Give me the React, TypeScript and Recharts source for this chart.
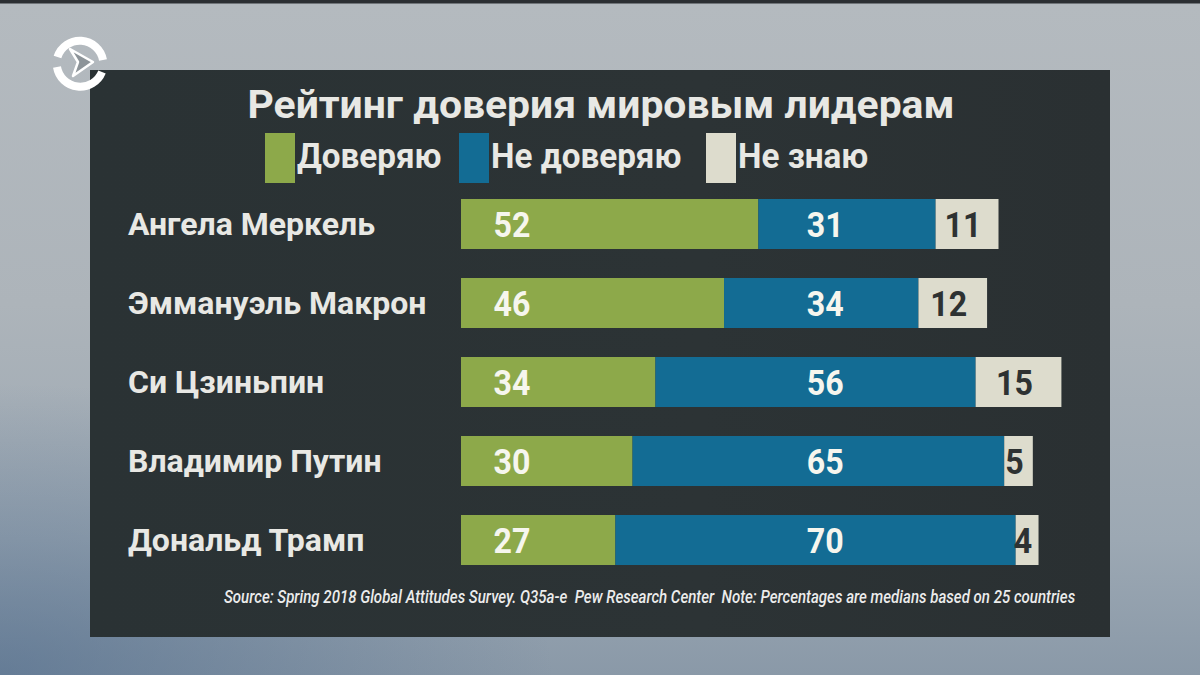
import React from 'react';
import { BarChart, Bar, XAxis, YAxis, LabelList, Legend } from 'recharts';

const categories = ['Ангела Меркель', 'Эммануэль Макрон', 'Си Цзиньпин', 'Владимир Путин', 'Дональд Трамп'];
const trustValues = [52, 46, 34, 30, 27];
const distrustValues = [31, 34, 56, 65, 70];
const unknownValues = [11, 12, 15, 5, 4];
const seriesNames = ['Доверяю', 'Не доверяю', 'Не знаю'];
const titleText = 'Рейтинг доверия мировым лидерам';
const footerText = 'Source: Spring 2018 Global Attitudes Survey. Q35a-e\u00a0 Pew Research Center\u00a0 Note: Percentages are medians based on 25 countries';

const data = categories.map((name, i) => ({
  name,
  trust: trustValues[i],
  distrust: distrustValues[i],
  unknown: unknownValues[i],
}));

const GREEN = '#8da94a';
const BLUE = '#136c94';
const BEIGE = '#dddccd';
const LIGHT = '#e8e8e4';
const FONT = 'Roboto, "Noto Sans", sans-serif';

const CatTick = (props: any) => {
  const { y, payload } = props;
  return (
    <text x={128} y={y + 11} fill={LIGHT} fontFamily={FONT} fontWeight={700} fontSize={32} textAnchor="start">
      {payload.value}
    </text>
  );
};

const ValueText = ({ cx, cy, value, fill }: any) => (
  <text
    transform={`translate(${cx} ${cy}) scale(0.92 1)`}
    x={0}
    y={0}
    fill={fill}
    fontFamily={FONT}
    fontWeight={700}
    fontSize={35}
    textAnchor="middle"
  >
    {value}
  </text>
);

const TrustLabel = (props: any) => {
  const { x, y, height, value } = props;
  return <ValueText cx={x + 51} cy={y + height / 2 + 13} value={value} fill="#f6f6ee" />;
};

const DistrustLabel = (props: any) => {
  const { x, y, width, height, value, index } = props;
  const row = data[index];
  const unit = width / row.distrust;
  const base = x - unit * row.trust;
  return <ValueText cx={base + unit * 63.7} cy={y + height / 2 + 13} value={value} fill="#f6f6ee" />;
};

const UnknownLabel = (props: any) => {
  const { x, y, width, height, value } = props;
  return <ValueText cx={x + width / 2 - 4} cy={y + height / 2 + 13} value={value} fill="#2e3232" />;
};

const legendX = [265, 459, 706];

const LegendContent = (props: any) => {
  const payload = props.payload || [];
  return (
    <svg width={1200} height={200} style={{ display: 'block' }}>
      {payload.map((p: any, i: number) => (
        <g key={i}>
          <rect x={legendX[i]} y={133} width={30} height={50} fill={p.color} />
          <text
            transform={`translate(${legendX[i] + 32} 168) scale(0.95 1)`}
            x={0}
            y={0}
            fill={LIGHT}
            fontFamily={FONT}
            fontWeight={700}
            fontSize={35}
          >
            {p.value}
          </text>
        </g>
      ))}
    </svg>
  );
};

export default function App() {
  return (
    <div style={{ position: 'absolute', left: 0, top: 0, width: 1200, height: 675, overflow: 'hidden' }}>
      <div
        style={{
          position: 'absolute', left: 0, top: 0, width: 1200, height: 675,
          background: 'linear-gradient(to bottom, #2c2f33 0px, #2c2f33 3px, #b4babf 4px, #adb4ba 45%, #9ca8b3 80%, #8a99a8 100%)',
        }}
      />
      <div
        style={{
          position: 'absolute', left: 0, top: 380, width: 560, height: 295,
          background: 'radial-gradient(ellipse at 0% 100%, rgba(70,100,135,0.55) 0%, rgba(70,100,135,0) 70%)',
        }}
      />
      <div
        style={{
          position: 'absolute', left: 90, top: 70, width: 1020, height: 567,
          background: 'linear-gradient(to right, #2a3234 0%, #2c3335 60%, #2a3032 100%)',
        }}
      />
      <div style={{ position: 'absolute', left: 0, top: 0 }}>
        <BarChart
          width={1200}
          height={675}
          layout="vertical"
          data={data}
          margin={{ top: 184, right: 110, bottom: 96, left: 121 }}
        >
          <XAxis type="number" domain={[0, 110]} hide />
          <YAxis type="category" dataKey="name" width={340} axisLine={false} tickLine={false} tick={<CatTick />} />
          <Legend
            layout="vertical"
            verticalAlign="middle"
            align="center"
            wrapperStyle={{ position: 'absolute', left: 0, top: 0, width: 1200, height: 200 }}
            content={<LegendContent />}
          />
          <Bar dataKey="trust" name={seriesNames[0]} stackId="a" fill={GREEN} barSize={50} isAnimationActive={false}>
            <LabelList dataKey="trust" content={<TrustLabel />} />
          </Bar>
          <Bar dataKey="distrust" name={seriesNames[1]} stackId="a" fill={BLUE} barSize={50} isAnimationActive={false}>
            <LabelList dataKey="distrust" content={<DistrustLabel />} />
          </Bar>
          <Bar dataKey="unknown" name={seriesNames[2]} stackId="a" fill={BEIGE} barSize={50} isAnimationActive={false}>
            <LabelList dataKey="unknown" content={<UnknownLabel />} />
          </Bar>
        </BarChart>
      </div>
      <svg width={1200} height={675} style={{ position: 'absolute', left: 0, top: 0, pointerEvents: 'none' }}>
        <g>
          <path d="M 57.5 57 A 23.5 23.5 0 0 1 103 60" fill="none" stroke="#ffffff" strokeWidth={8} />
          <path d="M 102 72 A 23.5 23.5 0 0 1 57 67" fill="none" stroke="#ffffff" strokeWidth={8} />
          <polygon points="70,49 93,62 73,76 78,62" fill="#8d9499" stroke="#ffffff" strokeWidth={2.5} strokeLinejoin="round" />
        </g>
        <text x={601} y={118} textAnchor="middle" fill={LIGHT} fontFamily={FONT} fontWeight={700} fontSize={38} textLength={707} lengthAdjust="spacingAndGlyphs">
          {titleText}
        </text>
        <text
          transform="translate(224 603) scale(0.82 1)"
          x={0}
          y={0}
          fill="#ececec"
          fontFamily={FONT}
          fontStyle="italic"
          fontWeight={500}
          fontSize={18}
          textLength={1038}
          lengthAdjust="spacingAndGlyphs"
        >
          {footerText}
        </text>
      </svg>
    </div>
  );
}
